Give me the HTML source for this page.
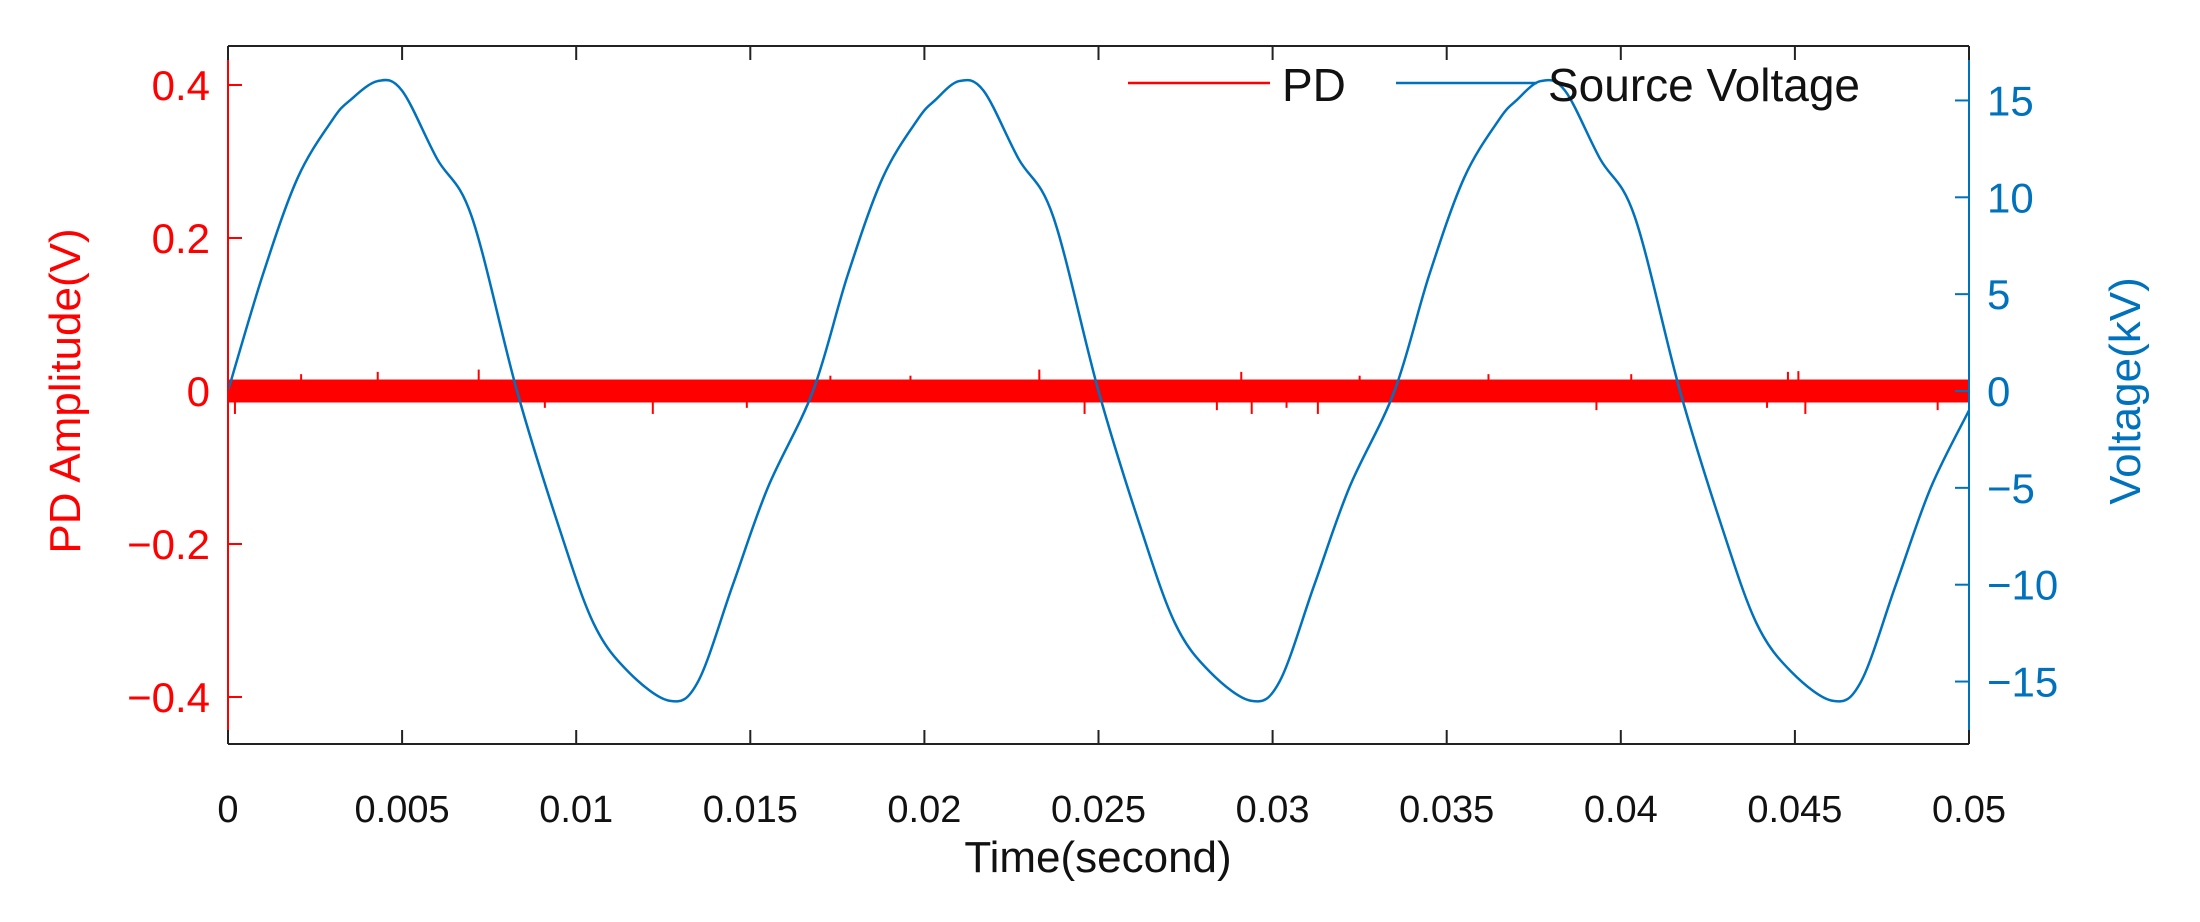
<!DOCTYPE html>
<html><head><meta charset="utf-8"><style>
html,body{margin:0;padding:0;background:#fff;width:2200px;height:922px;overflow:hidden}
svg{display:block;font-family:"Liberation Sans",Arial,sans-serif}
</style></head><body>
<svg id="chart" width="2200" height="922">
<g id="plot"></g>
</svg>
<script>
const xTicks=[0,0.005,0.01,0.015,0.02,0.025,0.03,0.035,0.04,0.045,0.05];
const xTickLabels=["0","0.005","0.01","0.015","0.02","0.025","0.03","0.035","0.04","0.045","0.05"];
const leftTicks=[0.4,0.2,0,-0.2,-0.4];
const leftTickLabels=["0.4","0.2","0","\u22120.2","\u22120.4"];
const rightTicks=[15,10,5,0,-5,-10,-15];
const rightTickLabels=["15","10","5","0","\u22125","\u221210","\u221215"];
const vTimes=[0,0.001,0.002,0.003,0.0035,0.0043,0.005,0.006,0.007,0.0083,0.0095,0.0105,0.0115,0.0127,0.0135,0.0145,0.0155,0.0168,
0.0178,0.0188,0.0198,0.0203,0.021,0.0217,0.0227,0.0237,0.025,0.0262,0.0272,0.0282,0.0294,0.0302,0.0312,0.0322,0.0335,
0.0345,0.0355,0.0365,0.037,0.0377,0.0384,0.0394,0.0404,0.0417,0.0429,0.0439,0.0449,0.0461,0.0469,0.0479,0.0489,0.05];
const vValues=[0,6,11,14,15,16,15.5,12,9,0,-7,-12,-14.5,-16,-15,-10,-5,0,
6,11,14,15,16,15.5,12,9,0,-7,-12,-14.5,-16,-15,-10,-5,0,
6,11,14,15,16,15.5,12,9,0,-7,-12,-14.5,-16,-15,-10,-5,-1];
const pdSpikeTimes=[0.0002,0.0021,0.0043,0.0072,0.0091,0.0122,0.0149,0.0173,0.0196,0.0233,0.0246,0.0284,0.0291,0.0294,0.0304,0.0313,0.0325,0.0362,0.0393,0.0403,0.0442,0.0448,0.0451,0.0453,0.0491];
const pdSpikeValues=[-0.03,0.022,0.025,0.028,-0.022,-0.03,-0.022,0.02,0.02,0.028,-0.03,-0.025,0.025,-0.03,-0.022,-0.03,0.02,0.022,-0.025,0.022,-0.022,0.025,0.026,-0.03,-0.025];
const pdBand=[-0.015,0.015];

const NS="http://www.w3.org/2000/svg";
const L=228,R=1969,T=46,B=744;
const x=t=>L+(t/0.05)*(R-L);
const yL=v=>391-v*765;
const yR=v=>391-v*19.37;
const g=document.getElementById('plot');
function el(tag,attrs,text){const e=document.createElementNS(NS,tag);for(const k in attrs)e.setAttribute(k,attrs[k]);if(text!==undefined)e.textContent=text;g.appendChild(e);return e;}

let e=el('rect',{x:L,y:yL(pdBand[1]),width:R-L,height:yL(pdBand[0])-yL(pdBand[1]),fill:'#ff0000'});


pdSpikeTimes.forEach((t,i)=>{
 const s=el('line',{x1:x(t),x2:x(t),y1:yL(0),y2:yL(pdSpikeValues[i]),stroke:'#ff0000','stroke-width':2});
 
 
});
// Voltage line: Catmull-Rom smoothing through data points
const P=vTimes.map((t,i)=>[x(t),yR(vValues[i])]);
let d='M'+P[0][0]+','+P[0][1];
for(let i=0;i<P.length-1;i++){
 const p0=P[Math.max(0,i-1)],p1=P[i],p2=P[i+1],p3=P[Math.min(P.length-1,i+2)];
 const c1=[p1[0]+(p2[0]-p0[0])/6,p1[1]+(p2[1]-p0[1])/6];
 const c2=[p2[0]-(p3[0]-p1[0])/6,p2[1]-(p3[1]-p1[1])/6];
 d+=' C'+c1[0]+','+c1[1]+' '+c2[0]+','+c2[1]+' '+p2[0]+','+p2[1];
}
e=el('path',{d:d,fill:'none',stroke:'#0072bd','stroke-width':2.5,'stroke-linejoin':'round'});



e=el('line',{x1:L,x2:R,y1:T,y2:T,stroke:'#222','stroke-width':2});


e=el('line',{x1:L,x2:R,y1:B,y2:B,stroke:'#222','stroke-width':2});


e=el('line',{x1:L,x2:L,y1:T,y2:B,stroke:'#ff0000','stroke-width':2});


e=el('line',{x1:R,x2:R,y1:T,y2:B,stroke:'#0072bd','stroke-width':2});



xTicks.forEach((t,i)=>{
 el('line',{x1:x(t),x2:x(t),y1:B,y2:B-14,stroke:'#222','stroke-width':2});
 el('line',{x1:x(t),x2:x(t),y1:T,y2:T+14,stroke:'#222','stroke-width':2});
 const lb=el('text',{x:x(t),y:822,'font-size':38,'text-anchor':'middle',fill:'#111'},xTickLabels[i]);
 
 
});
leftTicks.forEach((v,i)=>{
 el('line',{x1:L,x2:L+14,y1:yL(v),y2:yL(v),stroke:'#ff0000','stroke-width':2});
 const lb=el('text',{x:210,y:yL(v)+15,'font-size':42,'text-anchor':'end',fill:'#ff0000'},leftTickLabels[i]);
 
 
});
rightTicks.forEach((v,i)=>{
 el('line',{x1:R,x2:R-14,y1:yR(v),y2:yR(v),stroke:'#0072bd','stroke-width':2});
 const lb=el('text',{x:1987,y:yR(v)+15,'font-size':42,'text-anchor':'start',fill:'#0072bd'},rightTickLabels[i]);
 
 
});
e=el('text',{x:1098,y:872,'font-size':44,'text-anchor':'middle',fill:'#111'},'Time(second)');


e=el('text',{x:0,y:0,'font-size':44,'text-anchor':'middle',fill:'#ff0000',transform:'translate(80,391) rotate(-90)'},'PD Amplitude(V)');


e=el('text',{x:0,y:0,'font-size':44,'text-anchor':'middle',fill:'#0072bd',transform:'translate(2140,391) rotate(-90)'},'Voltage(kV)');


e=el('line',{x1:1128,x2:1270,y1:83,y2:83,stroke:'#ff0000','stroke-width':2.5});


e=el('text',{x:1282,y:101,'font-size':46,fill:'#111'},'PD');


e=el('line',{x1:1396,x2:1537,y1:83,y2:83,stroke:'#0072bd','stroke-width':2.5});


e=el('text',{x:1548,y:101,'font-size':46,fill:'#111'},'Source Voltage');


</script>
</body></html>
